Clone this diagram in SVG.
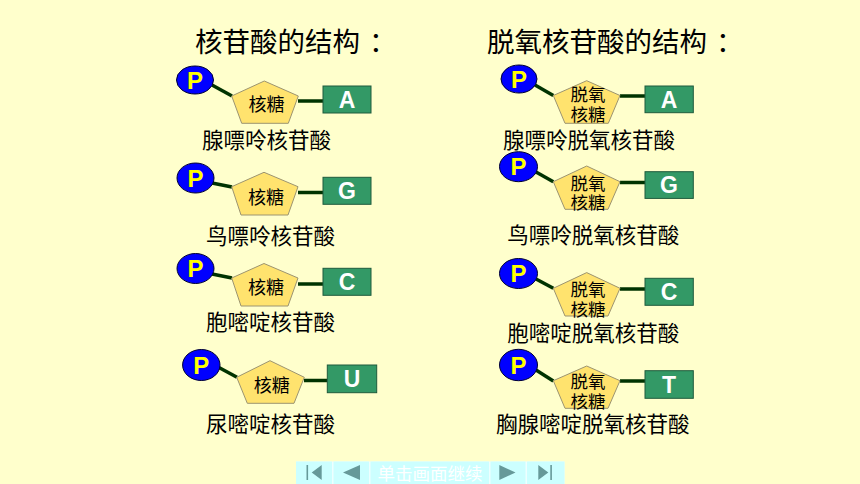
<svg xmlns="http://www.w3.org/2000/svg" width="860" height="484" viewBox="0 0 860 484">
<style>
.cjk{font-family:"Noto Sans CJK SC","Noto Sans CJK TC",sans-serif;fill:#000}
.title{font-size:27.5px}
.lbl{font-size:21.5px}
.sug{font-size:18px;text-anchor:middle}
.sug2{font-size:17.5px;text-anchor:middle}
.pc{fill:#0000FF;stroke:#000033;stroke-width:1}
.pt{font-family:"Liberation Sans",Arial,sans-serif;font-weight:bold;font-size:24px;fill:#FFFF00;text-anchor:middle}
.pent{fill:#FFE36E;stroke:#9C9470;stroke-width:1}
.base{fill:#339966;stroke:#1E5A3C;stroke-width:1}
.bt{font-family:"Liberation Sans",Arial,sans-serif;font-weight:bold;font-size:23px;fill:#FFFFFF;text-anchor:middle}
.con line{stroke:#003300;stroke-width:3.5}
.nb{fill:#CCFFFF}
.ni{fill:#669999}
.nt{font-family:"Noto Sans CJK SC",sans-serif;font-size:17.5px;fill:#FFFFFF;text-anchor:middle}
</style>
<rect width="860" height="484" fill="#FFFFCC"/>

<text class="cjk title" x="195" y="52">核苷酸的结构<tspan dx="9">：</tspan></text>
<text class="cjk title" x="487" y="52">脱氧核苷酸的结构<tspan dx="9">：</tspan></text>

<g id="connectors" class="con">
<line x1="212" y1="85" x2="232" y2="96"/>
<line x1="298" y1="101" x2="323" y2="101"/>
<line x1="212" y1="183" x2="232" y2="187"/>
<line x1="298" y1="192.5" x2="323" y2="192.5"/>
<line x1="212" y1="274" x2="232" y2="278"/>
<line x1="298" y1="284" x2="323" y2="284"/>
<line x1="218" y1="367" x2="237" y2="377.3"/>
<line x1="304" y1="380.5" x2="327.3" y2="380.5"/>
<line x1="535" y1="85" x2="553.3" y2="95.5"/>
<line x1="620" y1="96" x2="645" y2="96"/>
<line x1="536" y1="172" x2="553.3" y2="181.7"/>
<line x1="620" y1="182.5" x2="645" y2="182.5"/>
<line x1="536" y1="279" x2="553.3" y2="288.3"/>
<line x1="620" y1="289" x2="645" y2="289"/>
<line x1="536" y1="370" x2="553.3" y2="381"/>
<line x1="620" y1="381" x2="645" y2="381"/>
</g>

<!-- Left column -->
<g id="L1-P"><ellipse class="pc" cx="195" cy="80" rx="18.5" ry="14"/><text class="pt" x="195" y="88.5">P</text></g>
<g id="L1-sugar"><polygon class="pent" points="264.3,81 298.3,96 288.3,123.3 241.7,123.3 231.7,96"/><text class="cjk sug" x="266.5" y="110.5">核糖</text></g>
<g id="L1-base"><rect class="base" x="323" y="86" width="48" height="27"/><text class="bt" x="347" y="107.7">A</text></g>
<text id="L1-label" class="cjk lbl" x="202" y="148">腺嘌呤核苷酸</text>

<g id="L2-P"><ellipse class="pc" cx="195.5" cy="178" rx="18.5" ry="15"/><text class="pt" x="195.5" y="186.6">P</text></g>
<g id="L2-sugar"><polygon class="pent" points="264,172.3 298,186.7 288,215 241,215 231.7,186.7"/><text class="cjk sug" x="266" y="203.5">核糖</text></g>
<g id="L2-base"><rect class="base" x="323" y="177.3" width="48" height="27"/><text class="bt" x="347" y="199">G</text></g>
<text id="L2-label" class="cjk lbl" x="206" y="244">鸟嘌呤核苷酸</text>

<g id="L3-P"><ellipse class="pc" cx="195.5" cy="268.5" rx="18.5" ry="15"/><text class="pt" x="195.5" y="277.1">P</text></g>
<g id="L3-sugar"><polygon class="pent" points="264,263.5 298,278 288,306 241,306 231.7,278"/><text class="cjk sug" x="266" y="294">核糖</text></g>
<g id="L3-base"><rect class="base" x="323" y="268.3" width="48" height="27"/><text class="bt" x="347" y="290">C</text></g>
<text id="L3-label" class="cjk lbl" x="206" y="330">胞嘧啶核苷酸</text>

<g id="L4-P"><ellipse class="pc" cx="201.3" cy="365" rx="18.7" ry="15.5"/><text class="pt" x="201.3" y="373.6">P</text></g>
<g id="L4-sugar"><polygon class="pent" points="270,360.7 304.3,377.3 294,403.3 247.3,403.3 236.7,377.3"/><text class="cjk sug" x="271.7" y="391.5">核糖</text></g>
<g id="L4-base"><rect class="base" x="327.3" y="365" width="49.4" height="27.7"/><text class="bt" x="352" y="387">U</text></g>
<text id="L4-label" class="cjk lbl" x="206" y="432">尿嘧啶核苷酸</text>

<!-- Right column -->
<g id="R1-P"><ellipse class="pc" cx="519" cy="79" rx="18" ry="14"/><text class="pt" x="519" y="87.6">P</text></g>
<g id="R1-sugar"><polygon class="pent" points="586.7,80.7 620,95.5 608.3,123.3 565,123.3 553.3,95.5"/><text class="cjk sug2" x="588" y="101">脱氧</text><text class="cjk sug2" x="588" y="120.5">核糖</text></g>
<g id="R1-base"><rect class="base" x="645" y="86" width="48.3" height="26.7"/><text class="bt" x="669" y="107.5">A</text></g>
<text id="R1-label" class="cjk lbl" x="503" y="148">腺嘌呤脱氧核苷酸</text>

<g id="R2-P"><ellipse class="pc" cx="518.5" cy="166.7" rx="19" ry="15"/><text class="pt" x="518.5" y="175.3">P</text></g>
<g id="R2-sugar"><polygon class="pent" points="586.7,166 620,181.7 608,209.3 565,209.3 553.3,181.7"/><text class="cjk sug2" x="588" y="189.5">脱氧</text><text class="cjk sug2" x="588" y="209">核糖</text></g>
<g id="R2-base"><rect class="base" x="645" y="171.7" width="48.3" height="26.7"/><text class="bt" x="669" y="193.2">G</text></g>
<text id="R2-label" class="cjk lbl" x="507.3" y="243">鸟嘌呤脱氧核苷酸</text>

<g id="R3-P"><ellipse class="pc" cx="518.5" cy="273.5" rx="19" ry="15"/><text class="pt" x="518.5" y="282.1">P</text></g>
<g id="R3-sugar"><polygon class="pent" points="586.7,272.6 620,288.3 608,316 565,316 553.3,288.3"/><text class="cjk sug2" x="588" y="296">脱氧</text><text class="cjk sug2" x="588" y="315.5">核糖</text></g>
<g id="R3-base"><rect class="base" x="645" y="278.3" width="48.3" height="27"/><text class="bt" x="669" y="300">C</text></g>
<text id="R3-label" class="cjk lbl" x="507.3" y="341">胞嘧啶脱氧核苷酸</text>

<g id="R4-P"><ellipse class="pc" cx="518.5" cy="365" rx="19" ry="15.7"/><text class="pt" x="518.5" y="373.6">P</text></g>
<g id="R4-sugar"><polygon class="pent" points="586.7,366 620,380.7 608,408.3 565,408.3 553.3,380.7"/><text class="cjk sug2" x="588" y="388">脱氧</text><text class="cjk sug2" x="588" y="407.5">核糖</text></g>
<g id="R4-base"><rect class="base" x="645" y="370.7" width="48.3" height="27.6"/><text class="bt" x="669" y="392.7">T</text></g>
<text id="R4-label" class="cjk lbl" x="496" y="432">胸腺嘧啶脱氧核苷酸</text>

<!-- Navigation bar -->
<g id="nav">
<rect x="296" y="461.5" width="268.5" height="22.5" fill="#EEFFFF"/>
<rect class="nb" x="296" y="461.5" width="36" height="22.5"/>
<rect class="nb" x="333.5" y="461.5" width="35.5" height="22.5"/>
<rect class="nb" x="370.5" y="461.5" width="118.5" height="22.5"/>
<rect class="nb" x="490.5" y="461.5" width="35" height="22.5"/>
<rect class="nb" x="527" y="461.5" width="37.5" height="22.5"/>
<rect class="ni" x="306.5" y="465" width="1.6" height="15"/>
<polygon class="ni" points="321.7,465 311.7,472.5 321.7,480"/>
<polygon class="ni" points="360,465 343,472.5 360,480"/>
<text class="nt" x="430" y="480">单击画面继续</text>
<polygon class="ni" points="499.3,465 515.5,472.5 499.3,480"/>
<polygon class="ni" points="538.3,465 548.3,472.5 538.3,480"/>
<rect class="ni" x="550.3" y="465" width="1.6" height="15"/>
</g>
</svg>
